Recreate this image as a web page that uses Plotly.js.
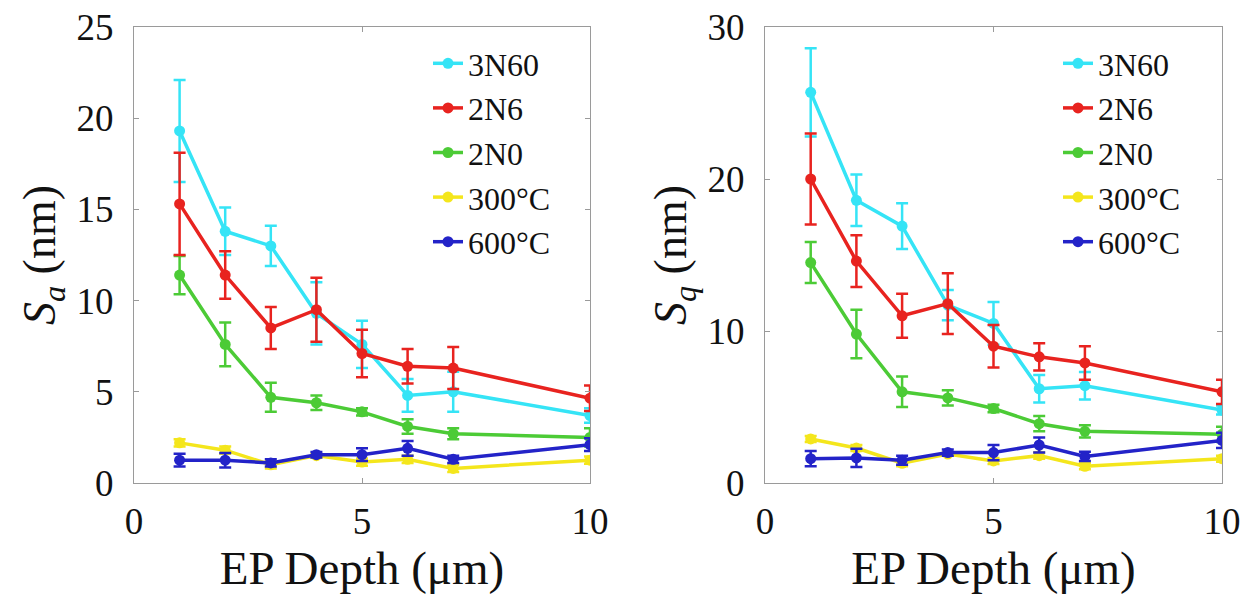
<!DOCTYPE html>
<html>
<head>
<meta charset="utf-8">
<script src="https://cdn.plot.ly/plotly-3.0.1.min.js"></script>
<style>html,body{margin:0;padding:0;background:#fff;}#chart{width:1253px;height:595px;}</style>
</head>
<body>
<div id="chart"></div>
<script>
// EP depth (µm)
const depth = [1, 2, 3, 4, 5, 6, 7, 10];

// Sa (nm) values and error bars
const sa_3N60 = [19.3, 13.8, 13.0, 9.3, 7.6, 4.8, 5.0, 3.7];
const sa_3N60_err = [2.8, 1.3, 1.1, 1.7, 1.3, 0.9, 1.1, 0.4];
const sa_2N6 = [15.3, 11.4, 8.5, 9.5, 7.1, 6.4, 6.3, 4.65];
const sa_2N6_err = [2.8, 1.3, 1.15, 1.75, 1.3, 0.95, 1.15, 0.7];
const sa_2N0 = [11.4, 7.6, 4.7, 4.4, 3.9, 3.1, 2.7, 2.5];
const sa_2N0_err = [1.05, 1.2, 0.8, 0.4, 0.2, 0.4, 0.3, 0.5];
const sa_300 = [2.2, 1.8, 1.0, 1.5, 1.15, 1.3, 0.8, 1.25];
const sa_300_err = [0.2, 0.2, 0.2, 0.1, 0.2, 0.2, 0.2, 0.2];
const sa_600 = [1.25, 1.25, 1.1, 1.55, 1.55, 1.9, 1.3, 2.1];
const sa_600_err = [0.35, 0.4, 0.2, 0.15, 0.35, 0.4, 0.2, 0.35];

// Sq (nm) values and error bars
const sq_3N60 = [25.7, 18.6, 16.9, 11.7, 10.5, 6.2, 6.4, 4.8];
const sq_3N60_err = [2.9, 1.7, 1.5, 1.0, 1.4, 0.9, 0.9, 0.3];
const sq_2N6 = [20.0, 14.6, 11.0, 11.8, 9.0, 8.3, 7.9, 6.0];
const sq_2N6_err = [3.0, 1.7, 1.45, 2.0, 1.4, 0.9, 1.1, 0.8];
const sq_2N0 = [14.5, 9.8, 6.0, 5.6, 4.9, 3.9, 3.4, 3.2];
const sq_2N0_err = [1.35, 1.6, 1.0, 0.5, 0.25, 0.5, 0.4, 0.5];
const sq_300 = [2.9, 2.3, 1.3, 1.9, 1.45, 1.8, 1.1, 1.6];
const sq_300_err = [0.2, 0.2, 0.2, 0.1, 0.2, 0.2, 0.2, 0.2];
const sq_600 = [1.6, 1.65, 1.5, 2.0, 2.0, 2.5, 1.75, 2.8];
const sq_600_err = [0.5, 0.6, 0.3, 0.2, 0.5, 0.5, 0.3, 0.5];

const seriesNames = ['3N60', '2N6', '2N0', '300°C', '600°C'];
const colors = {'3N60': '#35E4F6', '2N6': '#E8231F', '2N0': '#4CCB36', '300°C': '#F4E61C', '600°C': '#2323C8'};

const saData = {'3N60': [sa_3N60, sa_3N60_err], '2N6': [sa_2N6, sa_2N6_err], '2N0': [sa_2N0, sa_2N0_err], '300°C': [sa_300, sa_300_err], '600°C': [sa_600, sa_600_err]};
const sqData = {'3N60': [sq_3N60, sq_3N60_err], '2N6': [sq_2N6, sq_2N6_err], '2N0': [sq_2N0, sq_2N0_err], '300°C': [sq_300, sq_300_err], '600°C': [sq_600, sq_600_err]};

const drawOrder = ['300°C', '2N0', '3N60', '2N6', '600°C'];
const traces = [];
function addPanel(data, xa, ya, lg) {
  drawOrder.forEach(name => {
    traces.push({
      type: 'scatter', mode: 'lines+markers', name: name,
      x: depth, y: data[name][0], xaxis: xa, yaxis: ya,
      legend: lg, showlegend: true, legendrank: seriesNames.indexOf(name) + 1,
      line: {color: colors[name], width: 3.5},
      marker: {color: colors[name], size: 11, symbol: 'circle'},
      error_y: {type: 'data', array: data[name][1], visible: true, color: colors[name], thickness: 2.5, width: 6}
    });
  });
}
addPanel(saData, 'x', 'y', 'legend');
addPanel(sqData, 'x2', 'y2', 'legend2');

const serif = '"Liberation Serif", "Times New Roman", Times, serif';
const axisCommon = {
  showline: true, mirror: 'ticks', linecolor: '#9a9a9a', linewidth: 1,
  ticks: 'inside', ticklen: 5, tickcolor: '#9a9a9a', tickwidth: 1,
  showgrid: false, zeroline: false,
  tickfont: {family: serif, size: 37, color: '#111'}
};
const xCommon = Object.assign({}, axisCommon, {
  range: [0, 10], tickvals: [0, 5, 10], ticklabelstandoff: 6,
  title: {text: 'EP Depth (μm)', font: {family: serif, size: 47, color: '#111'}, standoff: 5}
});
const legendCommon = {
  font: {family: serif, size: 32, color: '#111'},
  bgcolor: 'rgba(0,0,0,0)', borderwidth: 0,
  yanchor: 'top', xanchor: 'left', tracegroupgap: 0, itemwidth: 30
};

const layout = {
  width: 1253, height: 595,
  margin: {l: 0, r: 0, t: 0, b: 0},
  paper_bgcolor: '#fff', plot_bgcolor: '#fff',
  showlegend: true,
  xaxis: Object.assign({}, xCommon, {domain: [134/1253, 590/1253], anchor: 'y'}),
  xaxis2: Object.assign({}, xCommon, {domain: [765/1253, 1222/1253], anchor: 'y2'}),
  yaxis: Object.assign({}, axisCommon, {
    domain: [112/595, 568/595], anchor: 'x', range: [0, 25], tickvals: [0, 5, 10, 15, 20, 25],
    ticklabelstandoff: 12,
    title: {text: '<i>S</i><sub><i>a</i></sub> (nm)', font: {family: serif, size: 46, color: '#111'}, standoff: 6}
  }),
  yaxis2: Object.assign({}, axisCommon, {
    domain: [112/595, 568/595], anchor: 'x2', range: [0, 30], tickvals: [0, 10, 20, 30],
    ticklabelstandoff: 12,
    title: {text: '<i>S</i><sub><i>q</i></sub> (nm)', font: {family: serif, size: 46, color: '#111'}, standoff: 6}
  }),
  legend: Object.assign({}, legendCommon, {x: 428/1253, y: 1 - 36/595}),
  legend2: Object.assign({}, legendCommon, {x: 1058/1253, y: 1 - 36/595})
};

Plotly.newPlot('chart', traces, layout, {displayModeBar: false, staticPlot: true});
</script>
</body>
</html>
